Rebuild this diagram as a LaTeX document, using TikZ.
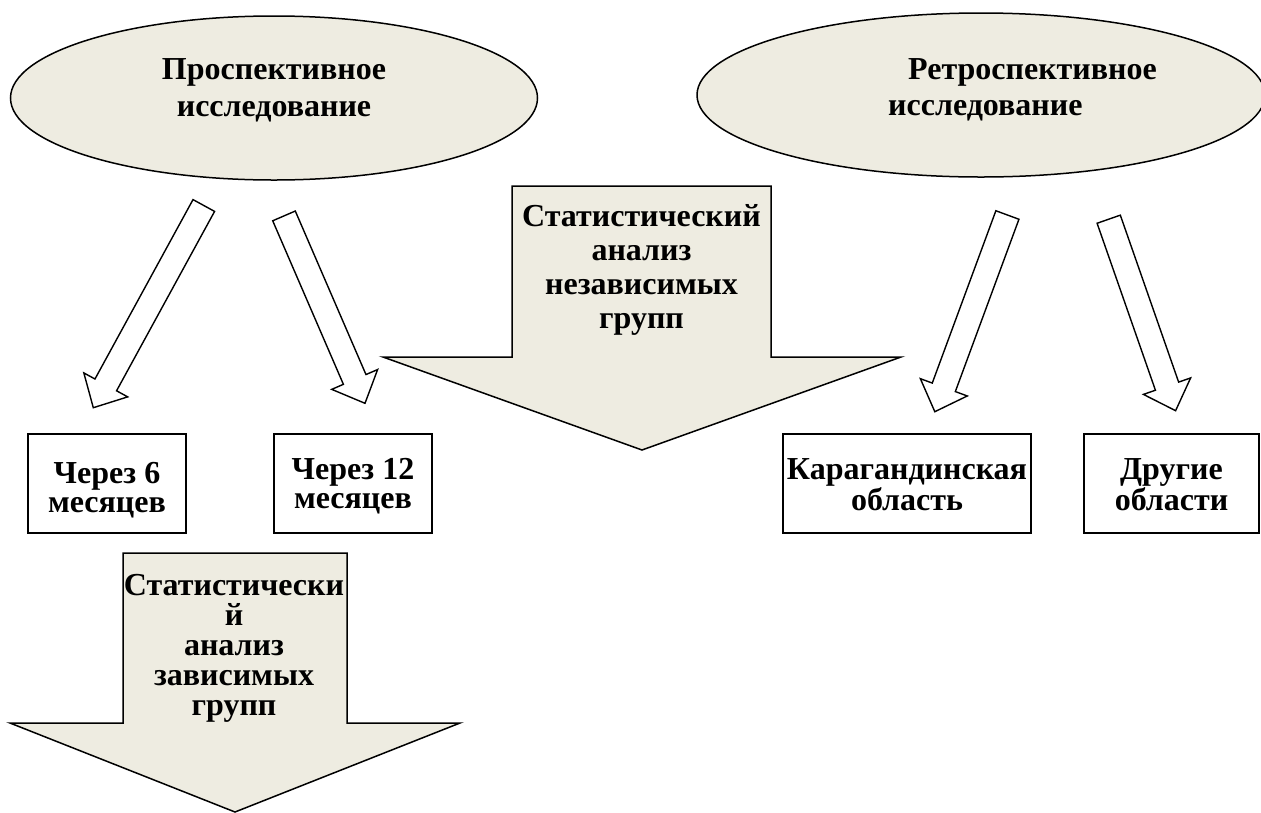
\documentclass[tikz,border=0pt]{standalone}
\usepackage{fontspec}
\setmainfont{Liberation Serif}
\usetikzlibrary{calc,shapes.geometric}
\definecolor{beigefill}{HTML}{EEECE1}
\tikzset{
  ovalnode/.style={ellipse, draw, line width=1.5pt, fill=beigefill, inner sep=0pt},
  bigarrow/.style={draw, line width=1.5pt, fill=beigefill, line join=miter},
  hollowarr/.style={draw, line width=1.4pt, fill=white, line join=miter},
  boxnode/.style={rectangle, draw, line width=2pt, fill=white, inner sep=0pt},
  txt/.style={font=\fontsize{32}{#1}\selectfont\bfseries, inner sep=0pt, align=center, anchor=base},
  txt/.default=36
}
\newcommand{\hollowarrow}[2]{%
  \path ($(#2)!26pt!(#1)$) coordinate (hb);
  \draw[hollowarr] ($(#1)!12.3pt!90:(#2)$) -- ($(hb)!12.3pt!-90:(#1)$) -- ($(hb)!25pt!-90:(#1)$) -- (#2)
    -- ($(hb)!25pt!90:(#1)$) -- ($(hb)!12.3pt!90:(#1)$) -- ($(#1)!12.3pt!-90:(#2)$) -- cycle;}
\begin{document}
\begin{tikzpicture}[x=1pt,y=-1pt]
\useasboundingbox (0,0) rectangle (1261,812);
\fill[white] (0,0) rectangle (1261,812);

% ellipses
\node[ovalnode, minimum width=527pt, minimum height=164pt] (pro) at (274,98) {};
\node[txt=37] (protxt) at (274,116) {Проспективное\\исследование};
\node[ovalnode, minimum width=568pt, minimum height=164pt] (retro) at (981,95) {};
\node[txt=36, align=left, anchor=base west] (retrotxt) at (888,115) {\hspace*{20pt}Ретроспективное\\исследование};

% big top arrow
\coordinate (ta1) at (512,186); \coordinate (ta2) at (771,186);
\coordinate (ta3) at (771,357); \coordinate (ta4) at (901,357);
\coordinate (ta5) at (642,450); \coordinate (ta6) at (383,357);
\coordinate (ta7) at (512,357);
\draw[bigarrow] (ta1) -- (ta2) -- (ta3) -- (ta4) -- (ta5) -- (ta6) -- (ta7) -- cycle;
\node[txt=34] (indep) at (641.5,328) {Статистический\\анализ\\независимых\\групп};

% hollow arrows
\coordinate (as) at (203.8,205.5); \coordinate (at) at (93.3,407.7);
\coordinate (bs) at (284,215.9);   \coordinate (bt) at (365,403.3);
\coordinate (cs) at (1007.4,215);  \coordinate (ct) at (934.8,411.7);
\coordinate (ds) at (1108.7,219.2);\coordinate (dt) at (1175.6,410.7);
\hollowarrow{as}{at}
\hollowarrow{bs}{bt}
\hollowarrow{cs}{ct}
\hollowarrow{ds}{dt}

% boxes
\node[boxnode, minimum width=158pt, minimum height=99pt] (m6) at (107,483.5) {};
\node[txt=29] (m6txt) at (107,512) {Через 6\\месяцев};
\node[boxnode, minimum width=158pt, minimum height=99pt] (m12) at (353,483) {};
\node[txt=29] (m12txt) at (353,508) {Через 12\\месяцев};
\node[boxnode, minimum width=248pt, minimum height=99pt] (kar) at (907,483) {};
\node[txt=29] (kartxt) at (907,510) {Карагандинская\\область};
\node[boxnode, minimum width=175pt, minimum height=99pt] (oth) at (1171.5,483) {};
\node[txt=29] (othtxt) at (1171.5,510) {Другие\\области};

% big bottom arrow
\coordinate (ba1) at (123,553); \coordinate (ba2) at (347,553);
\coordinate (ba3) at (347,723); \coordinate (ba4) at (460,723);
\coordinate (ba5) at (235,812); \coordinate (ba6) at (10,723);
\coordinate (ba7) at (123,723);
\draw[bigarrow] (ba1) -- (ba2) -- (ba3) -- (ba4) -- (ba5) -- (ba6) -- (ba7) -- cycle;
\node[txt=30] (dep) at (234,715) {Статистически\\й\\анализ\\зависимых\\групп};
\end{tikzpicture}
\end{document}
